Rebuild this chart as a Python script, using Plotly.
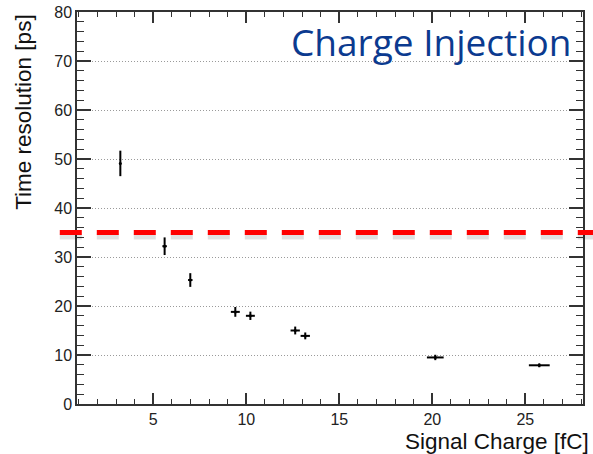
import plotly.graph_objects as go

charge = [3.23, 5.61, 6.99, 9.41, 10.22, 12.63, 13.17, 20.16, 25.75]
resolution = [49.1, 32.2, 25.3, 18.8, 18.0, 15.0, 13.9, 9.5, 7.9]
res_err = [2.6, 1.8, 1.4, 1.0, 0.85, 0.8, 0.7, 0.55, 0.4]
charge_err = [0.04, 0.12, 0.12, 0.24, 0.24, 0.25, 0.25, 0.45, 0.56]
threshold = 35

title_text = "Charge Injection"
x_title = "Signal Charge [fC]"
y_title = "Time resolution [ps]"
x_ticks = [5, 10, 15, 20, 25]
y_ticks = [0, 10, 20, 30, 40, 50, 60, 70, 80]

fig = go.Figure()
fig.add_trace(go.Scatter(
    x=charge, y=resolution, mode="markers",
    marker=dict(color="black", size=3),
    error_y=dict(type="data", array=res_err, color="black", thickness=2, width=0),
    error_x=dict(type="data", array=charge_err, color="black", thickness=2, width=0),
    showlegend=False, cliponaxis=False,
))

# red dashed threshold line with soft shadow
fig.add_shape(type="line", xref="paper", yref="y", x0=-0.034, x1=1.03,
              y0=threshold - 0.8, y1=threshold - 0.8,
              line=dict(color="rgba(0,0,0,0.12)", width=6, dash="22px,15px"))
fig.add_shape(type="line", xref="paper", yref="y", x0=-0.034, x1=1.03,
              y0=threshold, y1=threshold,
              line=dict(color="#FF0000", width=5, dash="22px,15px"))

fig.add_annotation(text=title_text, xref="paper", yref="paper", x=0.70, y=0.924,
                   xanchor="center", yanchor="middle", showarrow=False,
                   font=dict(family="Open Sans", size=37, color="#0B3A8F"))

fig.add_annotation(text=x_title, xref="paper", yref="paper", x=1.014, y=-0.095,
                   xanchor="right", yanchor="middle", showarrow=False, borderpad=0,
                   font=dict(family="Liberation Sans", size=22.5, color="#111111"))
fig.add_annotation(text=y_title, xref="paper", yref="paper", x=-0.107, y=1.0,
                   xanchor="center", yanchor="top", showarrow=False, textangle=-90,
                   font=dict(family="Liberation Sans", size=22.5, color="#111111"))

axis_common = dict(showline=True, linecolor="#333333", linewidth=1.5, mirror="ticks",
                   ticks="inside", tickcolor="#333333", tickwidth=1.5, automargin=False,
                   tickfont=dict(family="Liberation Sans", size=16, color="#222222"),
                   zeroline=False)

fig.update_xaxes(range=[0.9, 28.1], tickvals=x_ticks, ticklen=11, showgrid=False,
                 minor=dict(ticks="inside", dtick=1, ticklen=5, tickcolor="#333333", tickwidth=1.2, showgrid=False),
                 **axis_common)
fig.update_yaxes(range=[0, 80], tickvals=y_ticks, ticklen=14, showgrid=True,
                 gridcolor="#9a9a9a", griddash="1px,2px", gridwidth=1,
                 minor=dict(ticks="inside", dtick=2, ticklen=7, tickcolor="#333333", tickwidth=1.2, showgrid=False),
                 **axis_common)

fig.update_layout(width=593, height=454, margin=dict(l=77, r=10, t=12, b=50),
                  plot_bgcolor="white", paper_bgcolor="white")

fig.write_html("out.html")
